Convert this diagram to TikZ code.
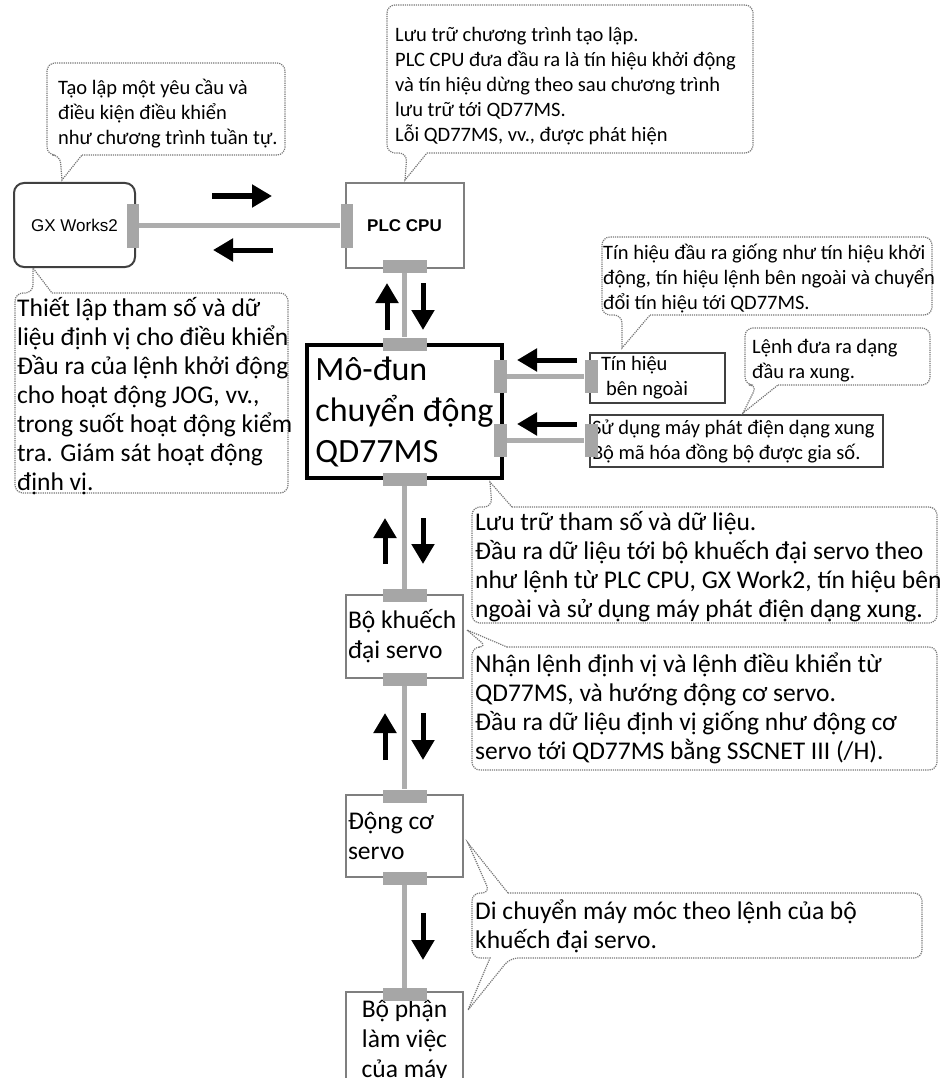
\documentclass[tikz,border=0pt]{standalone}
\usepackage{fontspec}
\setmainfont{Carlito}
\newfontfamily\arialfont{Liberation Sans}
\usetikzlibrary{arrows.meta}

\definecolor{boxgray}{HTML}{7F7F7F}
\definecolor{darkgray}{HTML}{404040}
\definecolor{portgray}{HTML}{A6A6A6}
\definecolor{linkgray}{HTML}{ADADAD}
\definecolor{notegray}{HTML}{777777}

\newcommand{\notesmall}{\fontsize{20.5}{25}\selectfont}
\newcommand{\notelarge}{\fontsize{25.5}{29}\selectfont}
\newcommand{\boxtext}{\fontsize{25.5}{30}\selectfont}
\newcommand{\qdtext}{\fontsize{34}{41}\selectfont}

\tikzset{
  box/.style={draw=boxgray, line width=2pt, fill=white, inner sep=0pt},
  sideport/.style={fill=portgray, inner sep=0pt, minimum width=12pt, minimum height=44pt},
  rport/.style={fill=portgray, inner sep=0pt, minimum width=13pt, minimum height=33pt},
  hport/.style={fill=portgray, inner sep=0pt, minimum width=44pt, minimum height=13pt},
  link/.style={draw=linkgray, line width=5pt},
  bigarrow/.style={line width=5pt, -{Triangle[length=20pt,width=22pt]}},
  note/.style={draw=notegray, densely dotted, line width=1.2pt},
  notetext/.style={align=flush left, inner sep=0pt, anchor=north west}
}

\begin{document}
\begin{tikzpicture}[x=1pt, y=-1pt]
  \useasboundingbox (0,0) rectangle (946,1078);

  % boxes
  \node[box, draw=darkgray, rounded corners=10pt, minimum width=121pt, minimum height=84pt,
    font=\arialfont\fontsize{17}{20}\selectfont] (gx) at (74.5,225) {GX Works2};
  \node[box, minimum width=118pt, minimum height=85pt,
    font=\arialfont\bfseries\fontsize{17}{20}\selectfont] (plc) at (404.5,225.5) {PLC CPU};
  \node[box, draw=black, line width=4pt, minimum width=195pt, minimum height=133pt,
    align=flush left, font=\qdtext] (qd) at (404.5,411.5) {Mô-đun\\chuyển động\\QD77MS};
  \node[box, draw=darkgray, minimum width=135pt, minimum height=50pt,
    align=flush left, text width=113pt, font=\notesmall] (ext) at (657.5,378) {Tín hiệu\\\hspace*{5pt}bên ngoài};
  \node[box, draw=darkgray, minimum width=293pt, minimum height=52pt,
    align=flush left, text width=289pt, font=\notesmall] (enc) at (736.5,441)
    {Sử dụng máy phát điện dạng xung\\Bộ mã hóa đồng bộ được gia số.};
  \node[box, minimum width=117pt, minimum height=83pt,
    align=flush left, text width=113pt, font=\boxtext] (amp) at (404.5,636.5) {Bộ khuếch\\đại servo};
  \node[box, minimum width=117pt, minimum height=82pt,
    align=flush left, text width=113pt, font=\boxtext] (motor) at (404.5,836) {Động cơ\\servo};
  \node[box, minimum width=117pt, minimum height=98pt,
    align=center, font=\boxtext] (mach) at (404.5,1041) {Bộ phận\\làm việc\\của máy};

  % ports
  \node[sideport] (gxport) at (133,225.5) {};
  \node[sideport] (plcleft) at (346.5,225.5) {};
  \node[hport] (plcbot) at (404.5,266) {};
  \node[hport] (qdtop) at (404.5,344) {};
  \node[hport] (qdbot) at (404.5,479) {};
  \node[rport] (qdsig) at (500.5,376) {};
  \node[rport] (qdenc) at (500.5,440) {};
  \node[rport] (extport) at (591,376) {};
  \node[rport] (encport) at (591,440) {};
  \node[hport] (amptop) at (404.5,595.5) {};
  \node[hport] (ampbot) at (404.5,679) {};
  \node[hport] (mottop) at (404.5,796) {};
  \node[hport] (motbot) at (404.5,878.5) {};
  \node[hport] (machtop) at (404.5,994.5) {};

  % links
  \draw[link] (gxport) -- (plcleft);
  \draw[link] (plcbot) -- (qdtop);
  \draw[link] (qdsig) -- (extport);
  \draw[link] (qdenc) -- (encport);
  \draw[link] (qdbot) -- (amptop);
  \draw[link] (ampbot) -- (mottop);
  \draw[link] (motbot) -- (machtop);

  % signal arrows
  \draw[bigarrow] (212,196) -- (272,196);
  \draw[bigarrow] (273,250) -- (213,250);
  \draw[bigarrow] (387,330) -- (387,283);
  \draw[bigarrow] (423,283) -- (423,330);
  \draw[bigarrow] (577,360) -- (517,360);
  \draw[bigarrow] (577,424) -- (517,424);
  \draw[bigarrow] (385,564) -- (385,518);
  \draw[bigarrow] (423,518) -- (423,564);
  \draw[bigarrow] (385,760) -- (385,713);
  \draw[bigarrow] (423,713) -- (423,760);
  \draw[bigarrow] (423,913) -- (423,960);

  % callouts
  \draw[note] (82,155) [rounded corners=8pt] -- (285,155) -- (285,63) -- (47,63) -- (47,155)
    -- (60,155) [sharp corners] -- (62,180) -- cycle;
  \node[notetext, font=\notesmall] (tgx) at (58,79)
    {Tạo lập một yêu cầu và\\điều kiện điều khiển\\như chương trình tuần tự.};

  \draw[note] (427,153) [rounded corners=8pt] -- (753,153) -- (753,5) -- (387,5) -- (387,153)
    -- (407,153) [sharp corners] -- (405,180) -- cycle;
  \node[notetext, font=\notesmall] (tplc) at (395,27)
    {Lưu trữ chương trình tạo lập.\\PLC CPU đưa đầu ra là tín hiệu khởi động\\và tín hiệu dừng theo sau chương trình\\lưu trữ tới QD77MS.\\Lỗi QD77MS, vv., được phát hiện};

  \draw[note] (52,293) [rounded corners=8pt] -- (288,293) -- (288,493) -- (15,493) -- (15,293)
    -- (33,293) [sharp corners] -- (33,268) -- cycle;
  \node[notetext, font=\notelarge] (tset) at (17,297)
    {Thiết lập tham số và dữ\\liệu định vị cho điều khiển\\Đầu ra của lệnh khởi động\\cho hoạt động JOG, vv.,\\trong suốt hoạt động kiểm\\tra. Giám sát hoạt động\\định vị.};

  \draw[note] (650,315) [rounded corners=8pt] -- (932,315) -- (932,237) -- (602,237) -- (602,315)
    -- (622,315) [sharp corners] -- (622,348) -- cycle;
  \node[notetext, font=\notesmall] (tsig) at (603,244)
    {Tín hiệu đầu ra giống như tín hiệu khởi\\động, tín hiệu lệnh bên ngoài và chuyển\\đổi tín hiệu tới QD77MS.};

  \draw[note] (778,385) [rounded corners=8pt] -- (930,385) -- (930,328) -- (745,328) -- (745,385)
    -- (757,385) [sharp corners] -- (743,413) -- cycle;
  \node[notetext, font=\notesmall] (tpulse) at (752,339)
    {Lệnh đưa ra dạng\\đầu ra xung.};

  \draw[note] (512,507) [rounded corners=8pt] -- (937,507) -- (937,623) -- (472,623) -- (472,507)
    -- (492,507) [sharp corners] -- (490,482) -- cycle;
  \node[notetext, font=\notelarge] (tqd) at (475,511)
    {Lưu trữ tham số và dữ liệu.\\Đầu ra dữ liệu tới bộ khuếch đại servo theo\\như lệnh từ PLC CPU, GX Work2, tín hiệu bên\\ngoài và sử dụng máy phát điện dạng xung.};

  \draw[note] (507,647) [rounded corners=8pt] -- (937,647) -- (937,770) -- (472,770) -- (472,647)
    -- (487,647) [sharp corners] -- (467,630) -- cycle;
  \node[notetext, font=\notelarge] (tamp) at (475,653)
    {Nhận lệnh định vị và lệnh điều khiển từ\\QD77MS, và hướng động cơ servo.\\Đầu ra dữ liệu định vị giống như động cơ\\servo tới QD77MS bằng SSCNET III (/H).};

  \draw[note] (508,893) [rounded corners=8pt] -- (922,893) -- (922,958) -- (510,958)
    [sharp corners] -- (468,1010) -- (490,958) [rounded corners=8pt] -- (472,958) -- (472,893)
    -- (490,893) [sharp corners] -- (468,843) -- cycle;
  \node[notetext, font=\notelarge] (tmot) at (475,900)
    {Di chuyển máy móc theo lệnh của bộ\\khuếch đại servo.};
\end{tikzpicture}
\end{document}
